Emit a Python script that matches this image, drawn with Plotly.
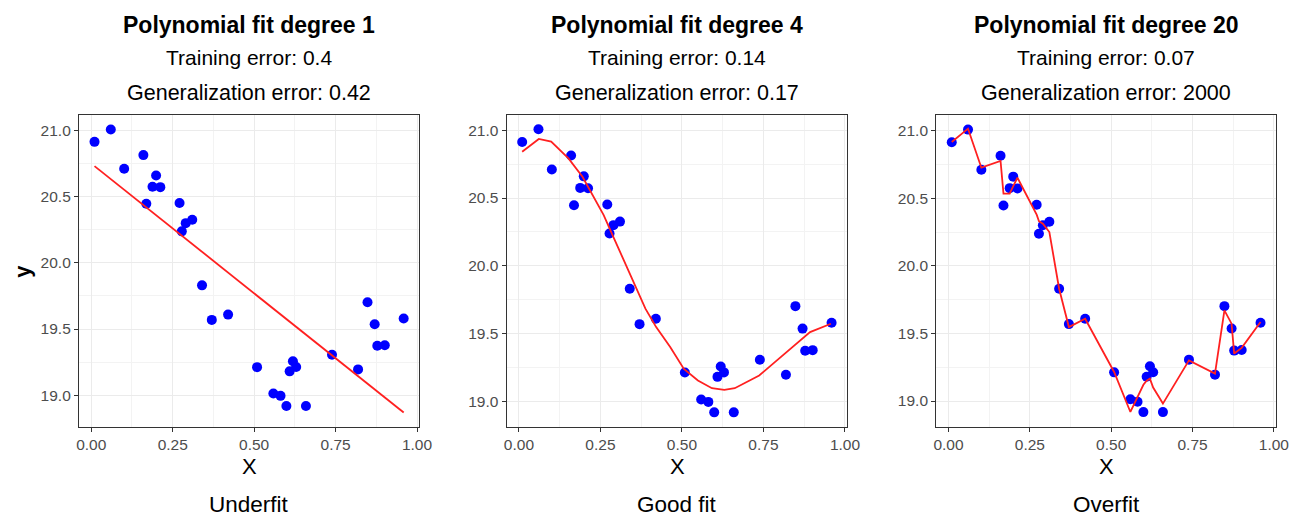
import plotly.graph_objects as go

# ---- data ----
x_data = [0.010, 0.060, 0.101, 0.160, 0.169, 0.188, 0.199, 0.212, 0.271, 0.278,
          0.290, 0.310, 0.340, 0.370, 0.420, 0.509, 0.559, 0.581, 0.599, 0.609,
          0.619, 0.629, 0.659, 0.739, 0.819, 0.848, 0.870, 0.878, 0.901, 0.959]
y_data = [20.914, 21.008, 20.711, 20.814, 20.447, 20.575, 20.660, 20.572, 20.452, 20.238,
          20.300, 20.326, 19.830, 19.569, 19.609, 19.212, 19.013, 18.995, 18.918, 19.180,
          19.257, 19.213, 18.918, 19.306, 19.195, 19.702, 19.536, 19.373, 19.377, 19.579]

# degree 1 fit (line endpoints)
fit1_x = [0.010, 0.959]
fit1_y = [20.731, 18.869]

# degree 4 fit
fit4_x = [0.010, 0.061, 0.099, 0.152, 0.195, 0.227, 0.260, 0.292, 0.324, 0.356, 0.388,
          0.421, 0.464, 0.506, 0.549, 0.592, 0.630, 0.662, 0.700, 0.737, 0.785, 0.839,
          0.893, 0.957]
fit4_y = [20.842, 20.936, 20.916, 20.793, 20.657, 20.522, 20.374, 20.201, 20.028, 19.856,
          19.683, 19.547, 19.400, 19.239, 19.153, 19.096, 19.084, 19.096, 19.141, 19.190,
          19.289, 19.400, 19.510, 19.572]

# degree 20 fit (evaluated at the data x)
fit20_y = [20.916, 21.015, 20.726, 20.776, 20.534, 20.534, 20.590, 20.652, 20.379, 20.330,
           20.312, 20.250, 19.831, 19.547, 19.609, 19.215, 18.919, 19.030, 19.120, 19.150,
           19.166, 19.100, 18.981, 19.301, 19.203, 19.671, 19.572, 19.351, 19.393, 19.585]

titles = ["Polynomial fit degree 1", "Polynomial fit degree 4", "Polynomial fit degree 20"]
train_err = ["0.4", "0.14", "0.07"]
gen_err = ["0.42", "0.17", "2000"]
captions = ["Underfit", "Good fit", "Overfit"]
x_ticks = [0.0, 0.25, 0.5, 0.75, 1.0]
y_ticks = [19.0, 19.5, 20.0, 20.5, 21.0]

W, H = 1291, 516
FONT = "Liberation Sans, Arial, Helvetica, sans-serif"
panels_px = [(77, 421.7), (510, 855), (945, 1289.3)]
top_px, bot_px = 115, 426.7
y_ranges = [[18.762, 21.117], [18.812, 21.113], [18.81, 21.116]]

fits = [(fit1_x, fit1_y), (fit4_x, fit4_y), (x_data, fit20_y)]

fig = go.Figure()
annotations = []
layout = {}
for i in range(3):
    sfx = "" if i == 0 else str(i + 1)
    xa, ya = "x" + sfx, "y" + sfx
    fig.add_trace(go.Scatter(x=x_data, y=y_data, mode="markers", xaxis=xa, yaxis=ya,
                             marker=dict(color="#0000FF", size=10, line=dict(width=0)),
                             showlegend=False, hoverinfo="skip"))
    fig.add_trace(go.Scatter(x=fits[i][0], y=fits[i][1], mode="lines", xaxis=xa, yaxis=ya,
                             line=dict(color="#FF2020", width=1.8),
                             showlegend=False, hoverinfo="skip"))
    l, r = panels_px[i]
    common = dict(showline=True, mirror=True, linecolor="#333333", linewidth=1.3,
                  ticks="outside", ticklen=4, tickcolor="#333333", tickwidth=1.1,
                  showgrid=True, gridcolor="#EBEBEB", gridwidth=1.2, zeroline=False,
                  tickfont=dict(family=FONT, size=15.5, color="#4D4D4D"))
    layout["xaxis" + sfx] = dict(
        domain=[l / W, r / W], anchor=ya, range=[-0.0375, 1.0075],
        tickvals=x_ticks, ticktext=[f"{v:.2f}" for v in x_ticks],
        minor=dict(showgrid=True, gridcolor="#F3F3F3", gridwidth=0.7,
                   tickvals=[0.125, 0.375, 0.625, 0.875], ticks=""),
        **common)
    layout["yaxis" + sfx] = dict(
        domain=[1 - bot_px / H, 1 - top_px / H], anchor=xa, range=y_ranges[i],
        tickvals=y_ticks, ticktext=[f"{v:.1f}" for v in y_ticks],
        minor=dict(showgrid=True, gridcolor="#F3F3F3", gridwidth=0.7,
                   tickvals=[18.75, 19.25, 19.75, 20.25, 20.75], ticks=""),
        **common)
    cx = (l + r) / 2 / W
    annotations += [
        dict(x=cx, y=1 - 25 / H, text="<b>" + titles[i] + "</b>",
             font=dict(family=FONT, size=23, color="#000000")),
        dict(x=cx, y=1 - 58 / H, text="Training error: " + train_err[i],
             font=dict(family=FONT, size=21, color="#000000")),
        dict(x=cx, y=1 - 93 / H, text="Generalization error: " + gen_err[i],
             font=dict(family=FONT, size=21.5, color="#000000")),
        dict(x=cx, y=1 - 466.5 / H, text="X",
             font=dict(family=FONT, size=22, color="#000000")),
        dict(x=cx, y=1 - 504.5 / H, text=captions[i],
             font=dict(family=FONT, size=22.5, color="#000000")),
    ]

annotations.append(dict(x=19 / W, y=1 - 271 / H, text="<b>y</b>", textangle=-90,
                        font=dict(family=FONT, size=22, color="#000000")))
for a in annotations:
    a.update(xref="paper", yref="paper", showarrow=False, xanchor="center", yanchor="middle")

fig.update_layout(width=W, height=H, margin=dict(l=0, r=0, t=0, b=0),
                  paper_bgcolor="white", plot_bgcolor="white",
                  annotations=annotations, **layout)
fig.write_html("out.html", config={"displayModeBar": False},
               post_script="document.body.style.margin='0';document.body.style.padding='0';"
                           "document.documentElement.style.overflow='hidden';")
